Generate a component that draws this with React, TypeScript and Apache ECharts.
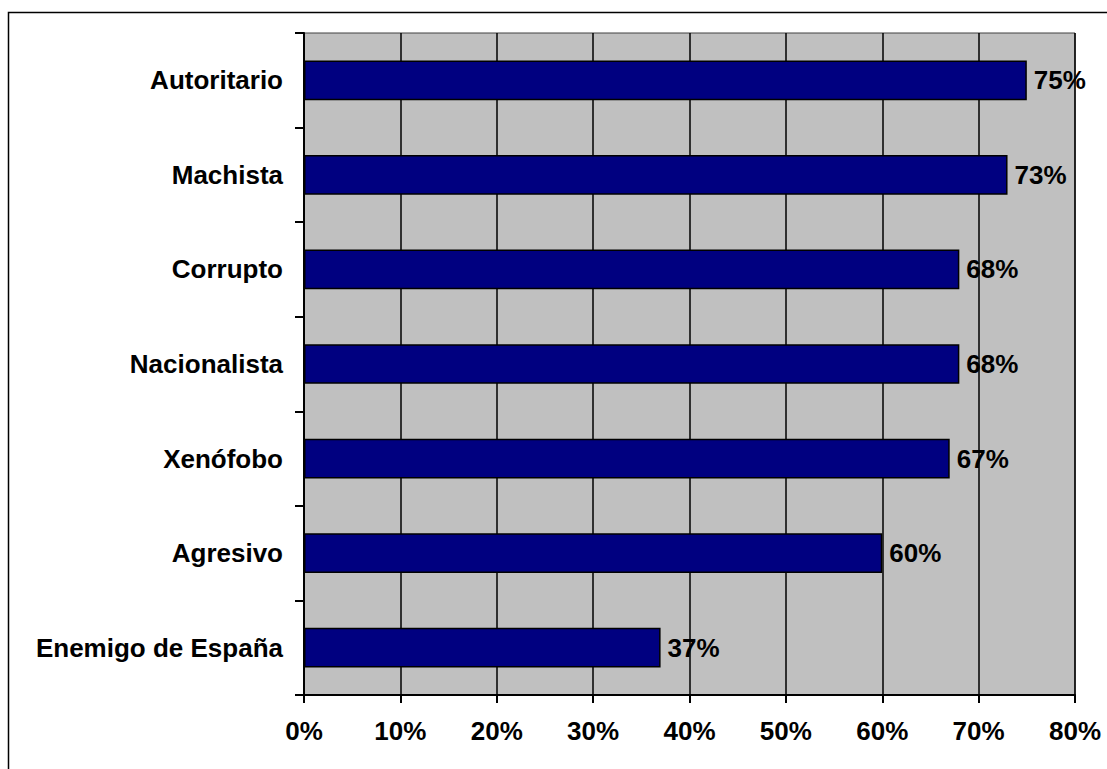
import React, { useEffect, useRef } from "react";
import * as echarts from "echarts";

const categories = [
  "Autoritario",
  "Machista",
  "Corrupto",
  "Nacionalista",
  "Xenófobo",
  "Agresivo",
  "Enemigo de España",
];
const values = [75, 73, 68, 68, 67, 60, 37];
const xTicks = [0, 10, 20, 30, 40, 50, 60, 70, 80];

const FONT = "'Liberation Sans', Arial, sans-serif";

export default function App() {
  const ref = useRef<HTMLDivElement>(null);
  useEffect(() => {
    if (!ref.current) return;
    const chart = echarts.init(ref.current, undefined, { renderer: "svg" });
    chart.setOption({
      animation: false,
      backgroundColor: "#ffffff",
      graphic: [
        {
          type: "rect",
          shape: { x: 8.5, y: 12.5, width: 1120, height: 800 },
          style: { fill: "none", stroke: "#000", lineWidth: 1.5 },
          silent: true,
          z: -10,
        },
      ],
      grid: {
        left: 304,
        top: 33,
        right: 32,
        bottom: 74,
        show: true,
        backgroundColor: "#C0C0C0",
        borderColor: "#404040",
        borderWidth: 1,
      },
      xAxis: {
        type: "value",
        min: xTicks[0],
        max: xTicks[xTicks.length - 1],
        interval: 10,
        axisLine: { show: true, lineStyle: { color: "#000", width: 2 } },
        axisTick: { show: true, length: 8, lineStyle: { color: "#000", width: 2 } },
        splitLine: { show: true, lineStyle: { color: "#000", width: 1.5 } },
        axisLabel: {
          formatter: "{value}%",
          margin: 23,
          fontFamily: FONT,
          fontWeight: "bold",
          fontSize: 26,
          color: "#000",
        },
      },
      yAxis: {
        type: "category",
        data: categories,
        inverse: true,
        axisLine: { show: true, lineStyle: { color: "#000", width: 2 } },
        axisTick: { show: true, length: 9, lineStyle: { color: "#000", width: 2 } },
        splitLine: { show: false },
        axisLabel: {
          margin: 21,
          fontFamily: FONT,
          fontWeight: "bold",
          fontSize: 26,
          color: "#000",
        },
      },
      series: [
        {
          type: "bar",
          data: values,
          barWidth: "42%",
          itemStyle: { color: "#000080", borderColor: "#000", borderWidth: 1.5 },
          label: {
            show: true,
            position: "right",
            distance: 7,
            formatter: "{c}%",
            fontFamily: FONT,
            fontWeight: "bold",
            fontSize: 26,
            color: "#000",
          },
        },
      ],
    });
    return () => chart.dispose();
  }, []);
  return (
    <div
      ref={ref}
      style={{ position: "fixed", left: 0, top: 0, width: 1107, height: 769 }}
    />
  );
}
